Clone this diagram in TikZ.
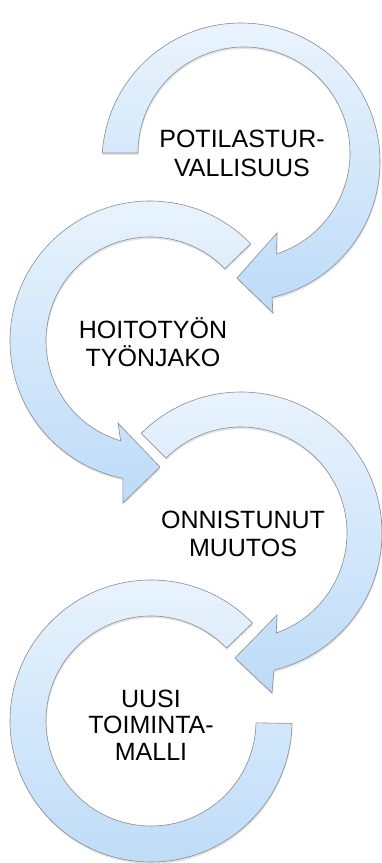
\documentclass[tikz,border=0pt]{standalone}
\usepackage{fontspec}
\setmainfont{Liberation Sans}
\usetikzlibrary{calc, shadows}
\definecolor{ringtop}{RGB}{234,244,253}
\definecolor{ringbottom}{RGB}{189,219,248}
\tikzset{
	x=1pt, y=1pt, % one unit is one pixel of the page
	ring/.style={draw=black!45, line width=0.6pt, top color=ringtop, bottom color=ringbottom,
		drop shadow={shadow xshift=0.6pt, shadow yshift=-2pt, opacity=0.22}}, % every circular arrow
	ringtext/.style={align=center, inner sep=0pt, font=\fontsize{25}{28.5}\selectfont}, % the words inside a ring
}

\begin{document}
\begin{tikzpicture}
	\useasboundingbox (0,0) rectangle (382,863);
	\coordinate (o1) at (241,701); % outer centre of the first ring
	\coordinate (i1) at (244,710); % inner centre of the first ring
	\coordinate (c2) at (150,522);
	\coordinate (c3) at (241,330);
	\coordinate (c4) at (151,142);
	% first ring, clockwise, head at the lower left
	\draw[ring] ($(o1)+(176.3:139)$) arc[start angle=176.3, end angle=-77.1, radius=139]
		-- (273,550) -- (237,585) -- (277,630)
		-- ($(i1)+(-72.1:106)$) arc[start angle=-72.1, end angle=180, radius=106] -- cycle;
	% second ring, anticlockwise, head at the lower right
	\draw[ring] ($(c2)+(44:140)$) arc[start angle=44, end angle=258.8, radius=140]
		-- (123,360) -- (160,396) -- (118,440)
		-- ($(c2)+(253.6:104)$) arc[start angle=253.6, end angle=44, radius=104] -- cycle;
	% third ring
	\draw[ring] ($(c3)+(135:141)$) arc[start angle=135, end angle=-76.5, radius=141]
		-- (272,170) -- (235,205) -- (277,248)
		-- ($(c3)+(-70.6:106)$) arc[start angle=-70.6, end angle=135, radius=106] -- cycle;
	% last ring has no head
	\draw[ring] ($(c4)+(44:141)$) arc[start angle=44, end angle=359, radius=141]
		-- ($(c4)+(-1:105)$) arc[start angle=359, end angle=44, radius=105] -- cycle;
	\node[ringtext] (t1) at (242,709.5) {POTILASTUR-\\VALLISUUS};
	\node[ringtext] (t2) at (153,521) {HOITOTYÖN\\TYÖNJAKO};
	\node[ringtext] (t3) at (243,329) {ONNISTUNUT\\MUUTOS};
	\node[ringtext, font=\fontsize{25}{26.5}\selectfont] (t4) at (151,138) {UUSI\\TOIMINTA-\\MALLI};
\end{tikzpicture}
\end{document}
